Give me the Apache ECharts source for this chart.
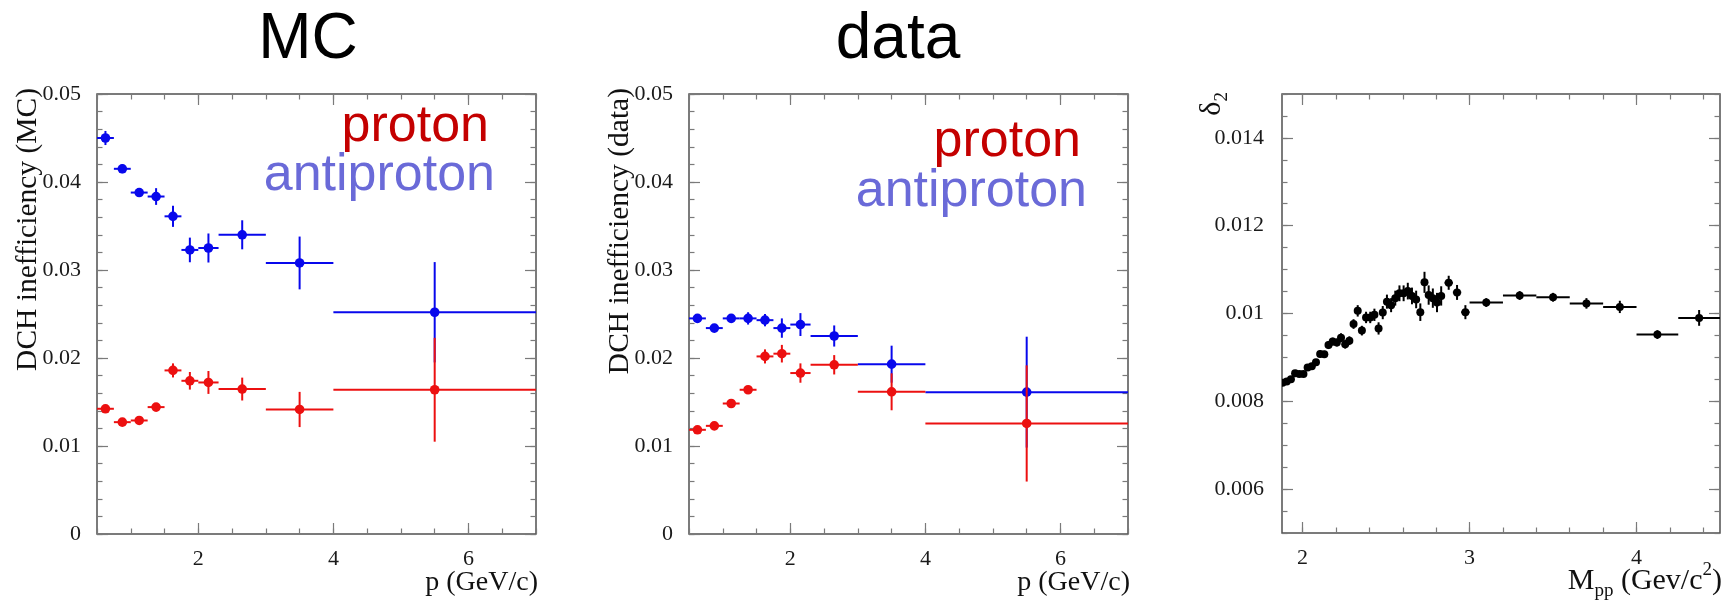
<!DOCTYPE html>
<html>
<head>
<meta charset="utf-8">
<script src="https://cdn.jsdelivr.net/npm/echarts@6/dist/echarts.min.js"></script>
<style>
  html, body { margin: 0; padding: 0; background: #ffffff; }
  #chart { width: 1730px; height: 614px; }
</style>
</head>
<body>
<div id="chart"></div>
<script>
// ---- momentum bins (GeV/c), shared by the MC and data panels ----
const pBinLow  = [0.5, 0.75, 1.0, 1.25, 1.5, 1.75, 2.0, 2.3, 3.0, 4.0];
const pBinHigh = [0.75, 1.0, 1.25, 1.5, 1.75, 2.0, 2.3, 3.0, 4.0, 7.0];
const pCenter  = [0.625, 0.875, 1.125, 1.375, 1.625, 1.875, 2.15, 2.65, 3.5, 5.5];

// ---- DCH inefficiency, MC ----
const mcProton     = [0.01423, 0.01271, 0.0129, 0.01442, 0.01859, 0.01741, 0.01722, 0.01647, 0.01415, 0.01639];
const mcProtonErr  = [0.0003, 0.0003, 0.0003, 0.0004, 0.0008, 0.001, 0.0013, 0.0013, 0.002, 0.0059];
const mcAnti       = [0.045, 0.0415, 0.0388, 0.03835, 0.0361, 0.03228, 0.0325, 0.034, 0.0308, 0.0252];
const mcAntiErr    = [0.0008, 0.0005, 0.0005, 0.00095, 0.0012, 0.0014, 0.00165, 0.00165, 0.003, 0.0057];

// ---- DCH inefficiency, data ----
const dataProton    = [0.01184, 0.01229, 0.01483, 0.01639, 0.02018, 0.02049, 0.01829, 0.01923, 0.01616, 0.01256];
const dataProtonErr = [0.0003, 0.0003, 0.0004, 0.0004, 0.0008, 0.001, 0.0011, 0.0011, 0.0021, 0.0066];
const dataAnti      = [0.0245, 0.0234, 0.0245, 0.0245, 0.0243, 0.0234, 0.0238, 0.0225, 0.0193, 0.01612];
const dataAntiErr   = [0.0005, 0.0003, 0.0005, 0.0007, 0.0007, 0.0011, 0.0013, 0.0012, 0.0021, 0.0063];

// ---- delta_2 versus M_pp (GeV/c^2) ----
const massCenter = [1.88, 1.905, 1.93, 1.955, 1.98, 2.005, 2.03, 2.055, 2.08, 2.105,
                    2.13, 2.155, 2.18, 2.205, 2.23, 2.255, 2.28, 2.305, 2.33, 2.355,
                    2.38, 2.405, 2.43, 2.455, 2.48, 2.505, 2.53, 2.555, 2.58, 2.605,
                    2.63, 2.655, 2.68, 2.705, 2.73, 2.755, 2.78, 2.805, 2.83,
                    2.875, 2.925, 2.975, 3.1, 3.3, 3.5, 3.7, 3.9, 4.125, 4.375];
const massHalfWidth = [0.0125, 0.0125, 0.0125, 0.0125, 0.0125, 0.0125, 0.0125, 0.0125, 0.0125, 0.0125,
                       0.0125, 0.0125, 0.0125, 0.0125, 0.0125, 0.0125, 0.0125, 0.0125, 0.0125, 0.0125,
                       0.0125, 0.0125, 0.0125, 0.0125, 0.0125, 0.0125, 0.0125, 0.0125, 0.0125, 0.0125,
                       0.0125, 0.0125, 0.0125, 0.0125, 0.0125, 0.0125, 0.0125, 0.0125, 0.0125,
                       0.025, 0.025, 0.025, 0.1, 0.1, 0.1, 0.1, 0.1, 0.125, 0.125];
const delta2 = [0.00842, 0.00845, 0.0085, 0.00864, 0.00862, 0.00862, 0.00877, 0.0088, 0.00889, 0.00908,
                0.00907, 0.00928, 0.00936, 0.00934, 0.00945, 0.0093, 0.00938, 0.00976, 0.01006, 0.00961,
                0.00991, 0.00991, 0.00997, 0.00966, 0.01002, 0.01027, 0.01019, 0.01035, 0.01046, 0.01046,
                0.01051, 0.0104, 0.01032, 0.01003, 0.01071, 0.01042, 0.01035, 0.01025, 0.0104,
                0.0107, 0.01048, 0.01003, 0.01025, 0.01041, 0.01037, 0.01023, 0.01015, 0.00952, 0.0099];
const delta2Err = [0.00005, 0.00005, 0.00005, 0.00006, 0.00006, 0.00006, 0.00007, 0.00007, 0.00007, 0.00008,
                   0.00008, 0.00009, 0.00009, 0.00009, 0.0001, 0.0001, 0.0001, 0.00011, 0.00013, 0.00011,
                   0.00013, 0.00013, 0.00014, 0.00014, 0.00015, 0.00016, 0.00016, 0.00017, 0.00018, 0.00018,
                   0.00019, 0.00019, 0.0002, 0.0002, 0.00024, 0.00022, 0.00022, 0.00022, 0.00022,
                   0.00016, 0.00017, 0.00016, 0.0001, 0.0001, 0.0001, 0.00012, 0.00014, 0.0001, 0.00018];

// ---- axis ticks and labels ----
const effYTicks   = [0, 0.01, 0.02, 0.03, 0.04, 0.05];
const pXTicks     = [2, 4, 6];
const deltaYTicks = [0.006, 0.008, 0.01, 0.012, 0.014];
const massXTicks  = [2, 3, 4];

const BLUE = '#0808ec';
const RED = '#ec1010';
const SERIF = '"Liberation Serif", "DejaVu Serif", serif';
const SANS = '"Liberation Sans", Arial, sans-serif';

function steps(a, b, s) {
  const out = [];
  const n = Math.round((b - a) / s);
  for (let i = 0; i <= n; i++) out.push(+(a + i * s).toFixed(6));
  return out;
}

const tickLine = { color: '#7a7a7a', width: 1.2 };
const labelFont = { fontFamily: SERIF, fontSize: 22, color: '#1a1a1a' };

// one value axis drawing inward ticks on one side of a framed grid
function axis(dim, g, pos, min, max, ticks, len, labels, margin, extra) {
  const a = {
    type: 'value', gridIndex: g, position: pos, min: min, max: max,
    axisLine: { show: false, onZero: false },
    splitLine: { show: false },
    minorTick: { show: false },
    axisTick: { show: true, inside: true, length: len, customValues: ticks, lineStyle: tickLine },
    axisLabel: labels
      ? Object.assign({ show: true, customValues: labels, margin: margin,
          formatter: function (v) { return String(+(+v).toPrecision(6)); } }, labelFont)
      : { show: false },
    silent: true
  };
  return Object.assign(a, extra || {});
}

function frameAxes(g, s) {
  const xs = [
    axis('x', g, 'bottom', s.xMin, s.xMax, s.xMajor, 11, s.xMajor, 14, s.xName),
    axis('x', g, 'bottom', s.xMin, s.xMax, s.xMinor, 5.5, null),
    axis('x', g, 'top', s.xMin, s.xMax, s.xMajor, 11, null),
    axis('x', g, 'top', s.xMin, s.xMax, s.xMinor, 5.5, null)
  ];
  const ys = [
    axis('y', g, 'left', s.yMin, s.yMax, s.yMajor, 11, s.yMajor, s.yMargin, s.yName),
    axis('y', g, 'left', s.yMin, s.yMax, s.yMinor, 5.5, null),
    axis('y', g, 'right', s.yMin, s.yMax, s.yMajor, 11, null),
    axis('y', g, 'right', s.yMin, s.yMax, s.yMinor, 5.5, null)
  ];
  return { xs: xs, ys: ys };
}

function xTitle(text, size, pad, rich) {
  return {
    name: text, nameLocation: 'end', nameGap: 2, nameMoveOverlap: false,
    nameTextStyle: { fontFamily: SERIF, fontSize: size, color: '#111', align: 'right',
                     verticalAlign: 'top', padding: [pad, 0, 0, 0], rich: rich }
  };
}
function yTitle(text, size, pad, gap, rich) {
  return {
    name: text, nameLocation: 'end', nameGap: gap, nameRotate: 90, nameMoveOverlap: false,
    nameTextStyle: { fontFamily: SERIF, fontSize: size, color: '#111', align: 'right',
                     verticalAlign: 'bottom', padding: [0, 0, pad, 0], rich: rich }
  };
}

const richMass = {
  b: { fontFamily: SERIF, fontSize: 30, color: '#111', lineHeight: 40, verticalAlign: 'middle' },
  sub: { fontFamily: SERIF, fontSize: 19, color: '#111', lineHeight: 19, verticalAlign: 'bottom' },
  sup: { fontFamily: SERIF, fontSize: 19, color: '#111', lineHeight: 19, verticalAlign: 'top' }
};

const panels = [
  frameAxes(0, {
    xMin: 0.5, xMax: 7, xMajor: pXTicks, xMinor: steps(0.5, 7, 0.5),
    yMin: 0, yMax: 0.05, yMajor: effYTicks, yMinor: steps(0, 0.05, 0.002), yMargin: 16,
    xName: xTitle('p (GeV/c)', 28, 35), yName: yTitle('DCH inefficiency (MC)', 29.5, 54, 6)
  }),
  frameAxes(1, {
    xMin: 0.5, xMax: 7, xMajor: pXTicks, xMinor: steps(0.5, 7, 0.5),
    yMin: 0, yMax: 0.05, yMajor: effYTicks, yMinor: steps(0, 0.05, 0.002), yMargin: 16,
    xName: xTitle('p (GeV/c)', 28, 35), yName: yTitle('DCH inefficiency (data)', 29.5, 54, 6)
  }),
  frameAxes(2, {
    xMin: 1.8765, xMax: 4.5, xMajor: massXTicks, xMinor: steps(2, 4.4, 0.2),
    yMin: 0.005, yMax: 0.015, yMajor: deltaYTicks, yMinor: steps(0.005, 0.015, 0.0005), yMargin: 18,
    xName: xTitle('{b|M}{sub|pp}{b| (Gev/c}{sup|2}{b|)}', 30, 28, richMass),
    yName: yTitle('{b|δ}{sub|2}', 30, 50, 2, richMass)
  })
];

// points with bin-width horizontal bars and vertical error bars
function binnedPoints(centers, lows, highs, values, errs) {
  return centers.map(function (c, i) {
    return [c, values[i], lows[i], highs[i], values[i] - errs[i], values[i] + errs[i]];
  });
}
function massPoints() {
  return massCenter.map(function (c, i) {
    return [c, delta2[i], c - massHalfWidth[i], c + massHalfWidth[i],
            delta2[i] - delta2Err[i], delta2[i] + delta2Err[i]];
  });
}

function errorSeries(name, g, data, color, r, lw) {
  return {
    type: 'custom', name: name, xAxisIndex: 4 * g, yAxisIndex: 4 * g,
    data: data, silent: true, clip: true,
    encode: { x: [0, 2, 3], y: [1, 4, 5] },
    renderItem: function (params, api) {
      const x = api.value(0), y = api.value(1);
      const c = api.coord([x, y]);
      const l = api.coord([api.value(2), y]);
      const h = api.coord([api.value(3), y]);
      const lo = api.coord([x, api.value(4)]);
      const hi = api.coord([x, api.value(5)]);
      return {
        type: 'group',
        children: [
          { type: 'line', shape: { x1: l[0], y1: c[1], x2: h[0], y2: c[1] },
            style: { stroke: color, lineWidth: lw } },
          { type: 'line', shape: { x1: c[0], y1: lo[1], x2: c[0], y2: hi[1] },
            style: { stroke: color, lineWidth: lw } },
          { type: 'circle', shape: { cx: c[0], cy: c[1], r: r },
            style: { fill: color } }
        ]
      };
    }
  };
}

const gridBase = { show: true, borderColor: '#505050', borderWidth: 1.5,
                   backgroundColor: 'transparent', containLabel: false, outerBoundsMode: 'none' };

const option = {
  animation: false,
  backgroundColor: '#ffffff',
  textStyle: { fontFamily: SERIF },
  grid: [
    Object.assign({ left: 97, top: 94, width: 439, height: 440 }, gridBase),
    Object.assign({ left: 689, top: 94, width: 439, height: 440 }, gridBase),
    Object.assign({ left: 1282, top: 94, width: 438, height: 439 }, gridBase)
  ],
  xAxis: [].concat(panels[0].xs, panels[1].xs, panels[2].xs),
  yAxis: [].concat(panels[0].ys, panels[1].ys, panels[2].ys),
  series: [
    errorSeries('antiproton', 0, binnedPoints(pCenter, pBinLow, pBinHigh, mcAnti, mcAntiErr), BLUE, 4.8, 2),
    errorSeries('proton', 0, binnedPoints(pCenter, pBinLow, pBinHigh, mcProton, mcProtonErr), RED, 4.8, 2),
    errorSeries('antiproton', 1, binnedPoints(pCenter, pBinLow, pBinHigh, dataAnti, dataAntiErr), BLUE, 4.8, 2),
    errorSeries('proton', 1, binnedPoints(pCenter, pBinLow, pBinHigh, dataProton, dataProtonErr), RED, 4.8, 2),
    errorSeries('delta2', 2, massPoints(), '#000000', 4, 2)
  ],
  graphic: [
    { type: 'text', x: 308, y: 40, silent: true,
      style: { text: 'MC', font: '64px ' + SANS, fill: '#000', align: 'center', verticalAlign: 'middle',
               textAlign: 'center', textVerticalAlign: 'middle' } },
    { type: 'text', x: 898, y: 40, silent: true,
      style: { text: 'data', font: '64px ' + SANS, fill: '#000', align: 'center', verticalAlign: 'middle',
               textAlign: 'center', textVerticalAlign: 'middle' } },
    { type: 'text', x: 489, y: 127, silent: true,
      style: { text: 'proton', font: '52px ' + SANS, fill: '#c40000', align: 'right', verticalAlign: 'middle',
               textAlign: 'right', textVerticalAlign: 'middle' } },
    { type: 'text', x: 495, y: 176, silent: true,
      style: { text: 'antiproton', font: '52px ' + SANS, fill: '#6a6ad8', align: 'right', verticalAlign: 'middle',
               textAlign: 'right', textVerticalAlign: 'middle' } },
    { type: 'text', x: 1081, y: 142, silent: true,
      style: { text: 'proton', font: '52px ' + SANS, fill: '#c40000', align: 'right', verticalAlign: 'middle',
               textAlign: 'right', textVerticalAlign: 'middle' } },
    { type: 'text', x: 1087, y: 192, silent: true,
      style: { text: 'antiproton', font: '52px ' + SANS, fill: '#6a6ad8', align: 'right', verticalAlign: 'middle',
               textAlign: 'right', textVerticalAlign: 'middle' } }
  ]
};

const chart = echarts.init(document.getElementById('chart'), null, { renderer: 'canvas' });
chart.setOption(option);
</script>
</body>
</html>
